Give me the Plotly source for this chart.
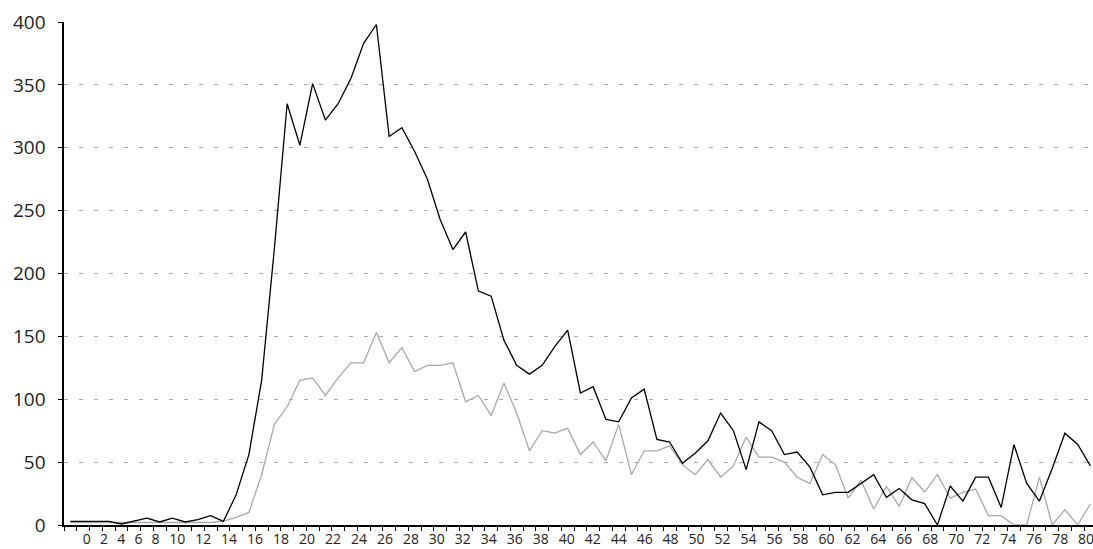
import plotly.graph_objects as go

# ---- data ----
categories = list(range(0, 81))
series_black = [2.9, 2.9, 2.9, 2.9, 0.8, 3, 5.5, 2.4, 5.5, 2.4, 4.2, 7.4, 2.9,
                24, 56, 115, 220, 335, 302, 351, 322, 335, 355, 383, 398,
                309, 316, 297, 275, 243, 219, 233, 186, 182, 147, 127, 120, 127, 142, 155,
                105, 110, 84, 82, 101, 108, 68, 66, 49, 57, 67, 89, 75, 44, 82, 75, 56, 58,
                46, 24, 26,
                26, 33, 40, 22, 29, 20, 17, 0, 31, 19, 38, 38, 14, 64, 33, 19, 45, 73, 64, 47]
series_gray = [2, 2, 2, 2, 2, 2, 2, 2, 2, 2, 2, 2, 3,
               6, 10, 40, 80, 94, 115, 117, 103, 117, 129, 129, 153,
               129, 141, 122, 127, 127, 129, 98, 103, 87, 113, 89, 59, 75, 73, 77,
               56, 66, 51, 80, 40, 59, 59, 63, 48, 40, 52, 38, 47, 70, 54, 54, 50, 38,
               33, 56, 48,
               21.4, 35.5, 12.7, 30.7, 14.8, 37.8, 26.2, 40.2, 21.4, 25.9, 28.6, 7.4, 7.4,
               0, 0, 38.1, 0, 12.2, 0, 16.9]
tick_labels = [str(v) for v in range(0, 81, 2)]
y_ticks = list(range(0, 401, 50))

# ---- layout geometry (page margin removed via post_script) ----
W, H = 1093, 549
ML, MR, MT, MB = 64, 0, 22, 24
X0, X1 = -0.5, 80.2
px_per_unit = (W - ML - MR) / (X1 - X0)


def px_to_x(px_page):
    return X0 + (px_page - ML) / px_per_unit


# tick labels laid out one after the other (as in the reference)
digit_w, gap, start_px = 8.77, 8.43, 82.4
label_pos = []
cur = start_px
for t in tick_labels:
    w = digit_w * len(t)
    label_pos.append(px_to_x(cur + w / 2))
    cur += w + gap

font_family = "Open Sans, Noto Sans, sans-serif"

fig = go.Figure()
fig.add_trace(go.Scatter(x=categories, y=series_gray, mode="lines",
                         line=dict(color="#a8a8a8", width=1.3), hoverinfo="skip"))
fig.add_trace(go.Scatter(x=categories, y=series_black, mode="lines",
                         line=dict(color="#000000", width=1.3), hoverinfo="skip"))

fig.update_layout(
    width=W, height=H,
    margin=dict(l=ML, r=MR, t=MT, b=MB, pad=0),
    paper_bgcolor="white", plot_bgcolor="white",
    showlegend=False,
    font=dict(family=font_family, color="#222222"),
    xaxis=dict(
        range=[X0, X1], showgrid=False, zeroline=False,
        showline=True, linecolor="#000000", linewidth=1.6,
        tickmode="array", tickvals=[k + 0.5 for k in range(-1, 81)],
        ticktext=["" for _ in range(-1, 81)],
        ticks="outside", ticklen=4, tickwidth=1, tickcolor="#000000",
        showticklabels=False,
    ),
    xaxis2=dict(
        range=[X0, X1], overlaying="x", anchor="y", side="bottom",
        showgrid=False, zeroline=False, showline=False,
        tickmode="array", tickvals=label_pos, ticktext=tick_labels,
        ticks="", tickfont=dict(size=14, family=font_family, color="#222222"),
        ticklabelstandoff=4, ticklabeloverflow="allow",
    ),
    yaxis=dict(
        range=[0, 400], tickmode="array", tickvals=y_ticks,
        showgrid=True, gridcolor="#a8a8a8", gridwidth=1, griddash="4px,11px",
        zeroline=False, showline=True, linecolor="#000000", linewidth=1.6,
        ticks="outside", ticklen=4, tickwidth=1, tickcolor="#000000",
        tickfont=dict(size=19, family=font_family, color="#222222"),
        ticklabelstandoff=9,
    ),
)
# dummy trace to activate xaxis2
fig.add_trace(go.Scatter(x=[X0], y=[None], xaxis="x2", yaxis="y",
                         mode="lines", showlegend=False, hoverinfo="skip"))

fig.write_html(
    "out.html",
    config={"displayModeBar": False, "staticPlot": True},
    post_script="document.body.style.margin='0';document.body.style.overflow='hidden';",
)
